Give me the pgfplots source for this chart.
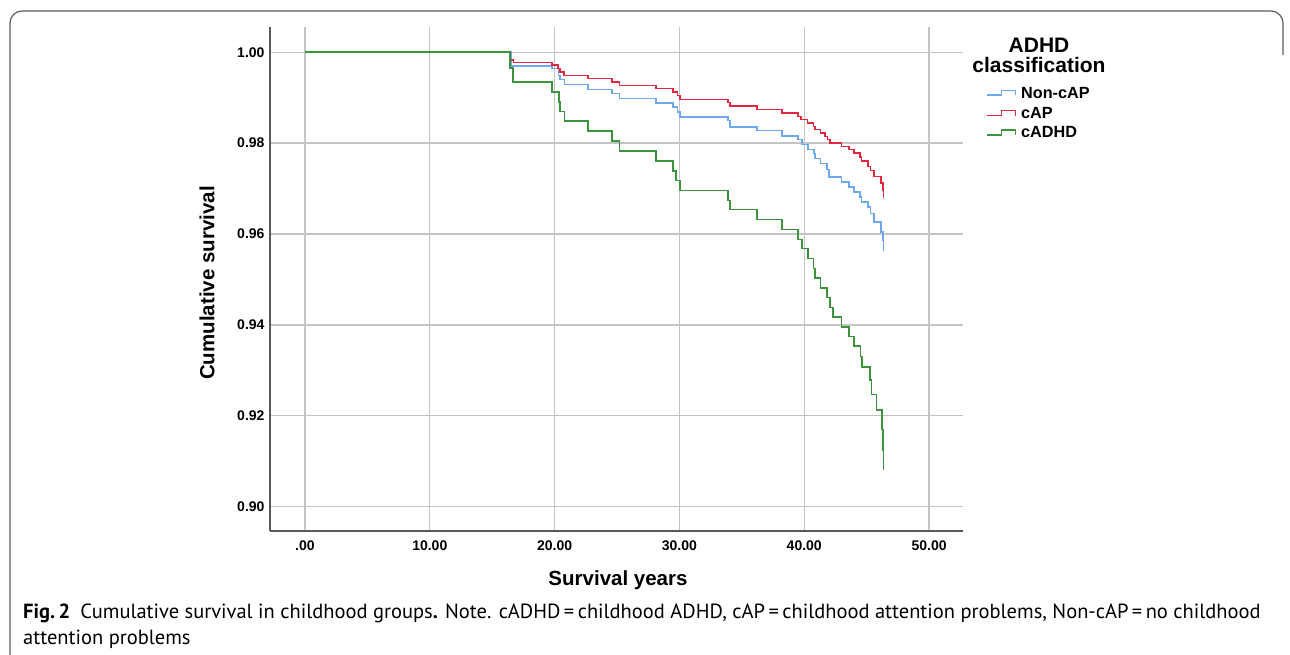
\documentclass[border=0pt]{standalone}
\usepackage{fontspec}
\setmainfont{Liberation Sans}
\newfontfamily\capfont{PT Sans}
\usepackage{pgfplots}
\pgfplotsset{compat=1.18}
\definecolor{cblue}{RGB}{110,168,240}
\definecolor{cred}{RGB}{226,40,64}
\definecolor{cgreen}{RGB}{60,148,60}
\definecolor{gridgray}{RGB}{196,196,196}
\definecolor{framegray}{RGB}{90,90,90}
\begin{document}
\begin{tikzpicture}[x=1pt,y=1pt]
\useasboundingbox (0,0) rectangle (1290,655);
\begin{scope}
\clip (0,0) rectangle (1290,655);
\draw[framegray, line width=1.2pt, rounded corners=12pt] (10,-30) -- (10,644) -- (1283,644) -- (1283,600);
\end{scope}
\begin{axis}[at={(270pt,124pt)}, anchor=south west, scale only axis,
  width=693pt, height=504pt,
  xmin=-2.8, xmax=52.72, ymin=0.89461, ymax=1.00557,
  axis x line*=bottom, axis y line*=left,
  axis line style={draw=black!65, line width=1.2pt, -},
  xtick={0,10,20,30,40,50}, xticklabels={.00,10.00,20.00,30.00,40.00,50.00},
  ytick={0.90,0.92,0.94,0.96,0.98,1.00}, yticklabels={0.90,0.92,0.94,0.96,0.98,1.00},
  major tick length=0pt,
  grid=major, major grid style={draw=gridgray, line width=1.4pt},
  tick label style={font=\fontsize{14}{16}\selectfont\bfseries},
  xticklabel style={yshift=-6pt},
  yticklabel style={xshift=-2pt},
  every axis plot/.append style={const plot, line width=1.6pt, mark=none},
]
\addplot[cblue] coordinates {
(0,1.0) (16.55,0.99699) (19.8,0.99641) (20.3,0.99493) (20.45,0.99398) (20.8,0.99295)
(22.7,0.99178) (24.6,0.99090) (25.2,0.98980) (28.1,0.98884) (29.5,0.98796) (29.85,0.98685)
(30.07,0.98575) (33.9,0.98502) (34.05,0.98355) (36.2,0.98282) (38.2,0.98157) (39.5,0.98077)
(39.8,0.97974) (40.3,0.97856) (40.8,0.97769) (40.85,0.97659) (41.3,0.97548) (41.8,0.97416)
(42.0,0.97253) (43.0,0.97143) (43.6,0.97033) (44.0,0.96923) (44.45,0.96813) (44.6,0.96703)
(45.1,0.96593) (45.3,0.96447) (45.6,0.96263) (46.15,0.96042) (46.3,0.95859) (46.35,0.95623)
};
\addplot[cred] coordinates {
(0,1.0) (16.47,0.99824) (16.7,0.99773) (19.8,0.99714) (20.28,0.99641) (20.43,0.99567) (20.75,0.99493)
(22.7,0.99420) (24.6,0.99346) (25.2,0.99273) (28.1,0.99200) (29.5,0.99126) (29.85,0.99053)
(30.07,0.98965) (33.9,0.98892) (34.05,0.98811) (36.2,0.98738) (38.2,0.98664) (39.5,0.98590)
(39.75,0.98517) (40.25,0.98444) (40.75,0.98370) (40.85,0.98297) (41.3,0.98223) (41.65,0.98150)
(41.85,0.98077) (42.05,0.98003) (43.0,0.97930) (43.6,0.97856) (44.0,0.97783) (44.45,0.97694)
(44.6,0.97606) (45.1,0.97489) (45.3,0.97401) (45.6,0.97269) (46.15,0.97122) (46.3,0.96960) (46.35,0.96800)
};
\addplot[cgreen] coordinates {
(0,1.0) (16.45,0.99650) (16.65,0.99346) (19.8,0.99126) (20.35,0.98905) (20.45,0.98700) (20.8,0.98487)
(22.7,0.98267) (24.6,0.98047) (25.2,0.97826) (28.1,0.97606) (29.5,0.97386) (29.75,0.97174)
(30.07,0.96960) (33.9,0.96740) (34.05,0.96535) (36.2,0.96315) (38.2,0.96100) (39.5,0.95880)
(39.8,0.95676) (40.3,0.95456) (40.75,0.95236) (40.85,0.95029) (41.3,0.94809) (41.8,0.94600)
(42.05,0.94377) (42.3,0.94170) (43.0,0.93950) (43.6,0.93744) (44.0,0.93531) (44.5,0.93304)
(44.65,0.93069) (45.25,0.92790) (45.4,0.92467) (45.8,0.92130) (46.24,0.91696) (46.33,0.91249) (46.35,0.90793)
};
\end{axis}
% axis labels
\node[font=\fontsize{20.5}{24}\selectfont\bfseries] at (618,75) {Survival years};
\node[font=\fontsize{20.5}{24}\selectfont\bfseries, rotate=90] at (207,372) {Cumulative survival};
% legend
\node[anchor=base, inner sep=0, font=\fontsize{21}{24}\selectfont\bfseries] at (1039,602.3) {ADHD};
\node[anchor=base, inner sep=0, font=\fontsize{21}{24}\selectfont\bfseries] at (1039,582.7) {classification};
\draw[cblue, line width=1.4pt] (987,560) -- (1001.5,560) -- (1001.5,564.5) -- (1015.5,564.5) -- (1015.5,559.5);
\node[anchor=base west, inner sep=0, font=\fontsize{16.2}{18}\selectfont\bfseries] at (1021,556.7) {Non-cAP};
\draw[cred, line width=1.4pt] (987,539.3) -- (1001.5,539.3) -- (1001.5,544.3) -- (1015.5,544.3) -- (1015.5,538.8);
\node[anchor=base west, inner sep=0, font=\fontsize{16.2}{18}\selectfont\bfseries] at (1021,536.7) {cAP};
\draw[cgreen, line width=1.4pt] (987,520) -- (1001.5,520) -- (1001.5,525) -- (1015.5,525) -- (1015.5,519.5);
\node[anchor=base west, inner sep=0, font=\fontsize{16.2}{18}\selectfont\bfseries] at (1021,517.7) {cADHD};
% caption
\node[anchor=base west, inner sep=0, font=\capfont\fontsize{20.5}{24}\selectfont] at (23,36) {\textbf{Fig.\,2}\hspace{0.5em}Cumulative survival in childhood groups\textbf{.} Note. cADHD\,=\,childhood ADHD, cAP\,=\,childhood attention problems, Non-cAP\,=\,no childhood};
\node[anchor=base west, inner sep=0, font=\capfont\fontsize{20.5}{24}\selectfont] at (23,10) {attention problems};
\end{tikzpicture}
\end{document}
